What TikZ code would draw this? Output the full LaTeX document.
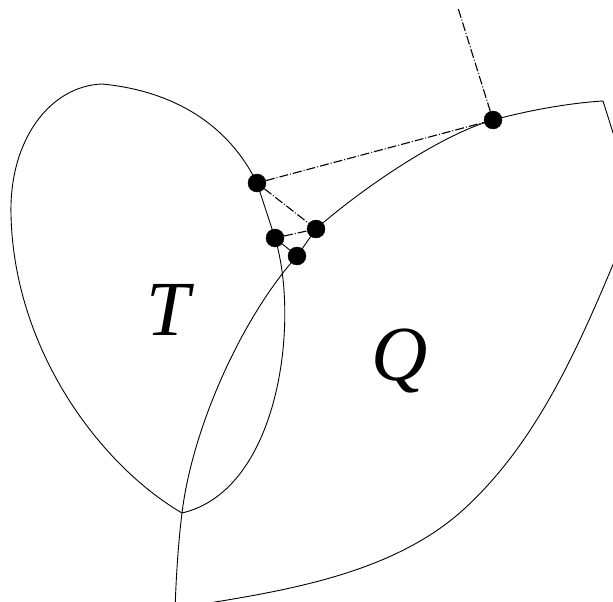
\documentclass[tikz,border=0pt]{standalone}
\usepackage{fontspec}
\setmainfont{Liberation Serif}
\usetikzlibrary{positioning}
\tikzset{
  vertex/.style={draw, circle, fill=black, inner sep=0pt, minimum size=18pt},
  outline/.style={line width=0.9pt},
  guide/.style={line width=1.1pt, dash pattern=on 9pt off 2pt on 1pt off 2pt},
  region/.style={font=\itshape\fontsize{78}{78}\selectfont, inner sep=0pt}
}

\begin{document}
\begin{tikzpicture}[x=1pt, y=-1pt]
  \useasboundingbox (0,0) rectangle (613,602);
  \clip (0,0) rectangle (613,602);

  \node[vertex] (a) at (257,183) {};
  \node[vertex] (b) at (316,229) {};
  \node[vertex] (c) at (275,238) {};
  \node[vertex] (d) at (297,256) {};
  \node[vertex] (e) at (493,120) {};
  \coordinate (far) at (458,8);
  \coordinate (cusp) at (182,513);
  \coordinate (corner) at (603,101);

  % region T
  \draw[outline] (cusp) .. controls (100,465) and (14,350) .. (11,215)
    .. controls (9,140) and (50,86) .. (102,84)
    .. controls (165,90) and (225,118) .. (a.center) -- (c.center)
    .. controls (300,320) and (280,490) .. (cusp);

  % region Q
  \draw[outline] (e.center) .. controls (440,135) and (360,190) .. (b.center) -- (d.center)
    .. controls (240,320) and (192,430) .. (cusp)
    .. controls (178,545) and (176,580) .. (175,610);
  \draw[outline] (e.center) .. controls (530,110) and (570,103) .. (corner) -- (620,155);
  \draw[outline] (622,243) .. controls (582,339) and (540,440) .. (463,510)
    .. controls (392,574) and (285,591) .. (190,606);

  \draw[outline] (c) -- (d);
  \draw[guide] (a) -- (e);
  \draw[guide] (a) -- (b);
  \draw[guide] (c) -- (b);
  \draw[guide] (e) -- (far);

  \node[region, anchor=base] (tlabel) at (168,335) {T};
  \node[region, anchor=base] (qlabel) at (400,380) {Q};
\end{tikzpicture}
\end{document}
